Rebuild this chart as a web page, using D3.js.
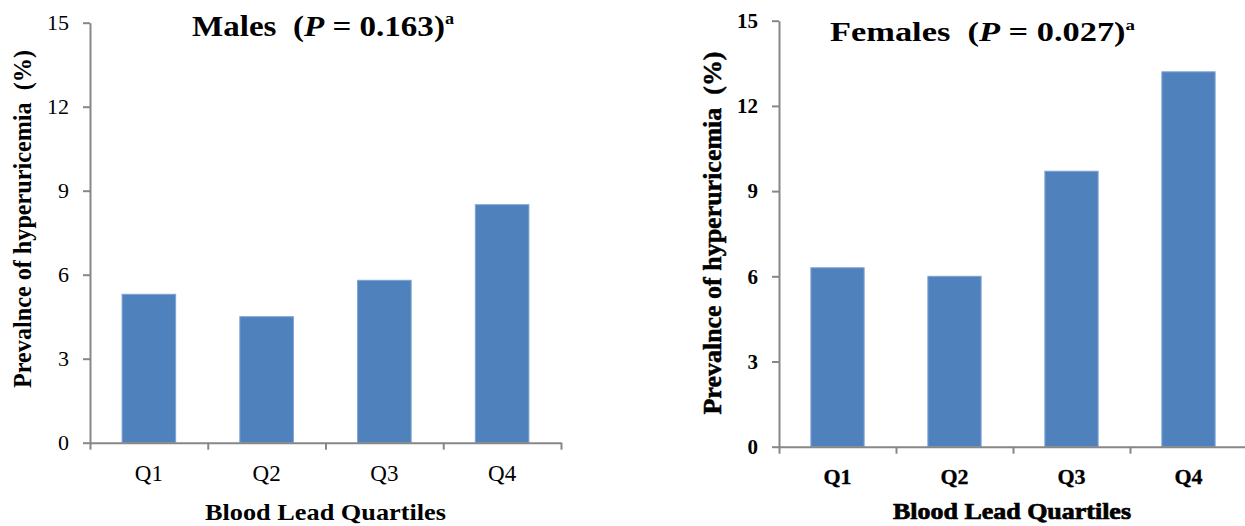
<!DOCTYPE html>
<html>
<head>
<meta charset="utf-8">
<script src="https://cdn.jsdelivr.net/npm/d3@7"></script>
<style>
  body { margin: 0; background: #fff; }
  svg { display: block; font-family: "Liberation Serif", "Times New Roman", serif; }
  .axis path, .axis line { stroke: #878787; stroke-width: 2; }
</style>
</head>
<body>
<svg id="chart" width="1245" height="526"></svg>
<script>
'use strict';

const quartiles   = ['Q1', 'Q2', 'Q3', 'Q4']
const malesPrev   = [5.3, 4.5, 5.8, 8.5]
const femalesPrev = [6.3, 6.0, 9.7, 13.2]
const yTicks      = [0, 3, 6, 9, 12, 15]
const malesP      = '0.163'
const femalesP    = '0.027'

const yLabel = 'Prevalnce of hyperuricemia  (%)'
const xLabel = 'Blood Lead Quartiles'

const svg = d3.select('#chart')

// the two panels are laid out a bit differently in the source figure
const panels = [
  {
    name: 'Males', p: malesP, values: malesPrev,
    x0: 90, x1: 561, yTop: 22.7, yBot: 442.7,
    tickBold: false, tickSize: 22, qSize: 23, heavy: 0,
    title: { x: 192, y: 36, size: 30, len: 262 },
    yLab:  { x: 31, y: 219, size: 25, len: 338 },
    xLab:  { y: 520, size: 23, len: 241 }
  },
  {
    name: 'Females', p: femalesP, values: femalesPrev,
    x0: 779, x1: 1247, yTop: 20.7, yBot: 446.7,
    tickBold: true, tickSize: 21, qSize: 22, heavy: 0.5,
    title: { x: 830, y: 40.5, size: 27, len: 305 },
    yLab:  { x: 721, y: 233, size: 26, len: 363 },
    xLab:  { y: 519, size: 23, len: 238 }
  }
]

panels.forEach((pn) => drawPanel(pn))

function heavy(sel, w) {
  if (w > 0) sel.attr('stroke', '#000').attr('stroke-width', w)
  return sel
}

function drawPanel(pn) {
  const g = svg.append('g')

  const y = d3.scaleLinear().domain([0, 15]).range([pn.yBot, pn.yTop])
  const xBand = d3.scaleBand()
    .domain(quartiles)
    .range([pn.x0, pn.x1])
    .paddingInner(0.545)
    .paddingOuter(0.2725)
  const xEdge = d3.scaleLinear().domain([0, quartiles.length]).range([pn.x0, pn.x1])

  // bars
  g.selectAll('rect.bar')
    .data(pn.values)
    .enter()
    .append('rect')
      .attr('class',  'bar')
      .attr('x',      (v, i) => xBand(quartiles[i]))
      .attr('y',      (v) => y(v))
      .attr('width',  xBand.bandwidth())
      .attr('height', (v) => y(0) - y(v))
      .attr('fill',   '#4f81bd')
      .attr('stroke', '#7ea3d3')
      .attr('stroke-width', 1)

  // y axis
  const yAxis = g.append('g')
    .attr('class', 'axis')
    .attr('transform', `translate(${pn.x0},0)`)
    .call(d3.axisLeft(y).tickValues(yTicks).tickSize(7).tickSizeOuter(0).tickPadding(14))
    .attr('font-family', null)
  yAxis.selectAll('text')
    .attr('fill', '#000')
    .style('font-size', pn.tickSize + 'px')
    .style('font-weight', pn.tickBold ? 'bold' : 'normal')

  // x axis: ticks sit on the category boundaries
  g.append('g')
    .attr('class', 'axis')
    .attr('transform', `translate(0,${pn.yBot})`)
    .call(d3.axisBottom(xEdge).ticks(quartiles.length).tickFormat('').tickSize(7).tickSizeOuter(0))

  const xLabels = g.append('g')
    .attr('transform', `translate(0,${pn.yBot})`)
    .call(d3.axisBottom(xBand).tickSize(0).tickPadding(22))
    .attr('font-family', null)
  xLabels.select('.domain').remove()
  xLabels.selectAll('text')
    .attr('fill', '#000')
    .style('font-size', pn.qSize + 'px')
    .style('font-weight', pn.tickBold ? 'bold' : 'normal')
  heavy(xLabels.selectAll('text'), pn.heavy * 0.6)

  // title
  const t = g.append('text')
    .attr('x', pn.title.x)
    .attr('y', pn.title.y)
    .attr('textLength', pn.title.len)
    .attr('lengthAdjust', 'spacingAndGlyphs')
    .style('font-size', pn.title.size + 'px')
    .style('font-weight', 'bold')
    .attr('xml:space', 'preserve')
  t.append('tspan').text(pn.name + '  (')
  t.append('tspan').style('font-style', 'italic').text('P')
  t.append('tspan').text(' = ' + pn.p + ')')
  t.append('tspan').attr('dy', -pn.title.size * 0.4).style('font-size', (pn.title.size * 0.55) + 'px').text('a')

  // axis titles
  heavy(g.append('text'), pn.heavy)
    .attr('transform', `translate(${pn.yLab.x},${pn.yLab.y}) rotate(-90)`)
    .attr('text-anchor', 'middle')
    .attr('textLength', pn.yLab.len)
    .attr('lengthAdjust', 'spacingAndGlyphs')
    .attr('xml:space', 'preserve')
    .style('font-size', pn.yLab.size + 'px')
    .style('font-weight', 'bold')
    .text(yLabel)

  heavy(g.append('text'), pn.heavy * 1.4)
    .attr('x', (pn.x0 + Math.min(pn.x1, 1245)) / 2)
    .attr('y', pn.xLab.y)
    .attr('text-anchor', 'middle')
    .attr('textLength', pn.xLab.len)
    .attr('lengthAdjust', 'spacingAndGlyphs')
    .style('font-size', pn.xLab.size + 'px')
    .style('font-weight', 'bold')
    .text(xLabel)
}
</script>
</body>
</html>
